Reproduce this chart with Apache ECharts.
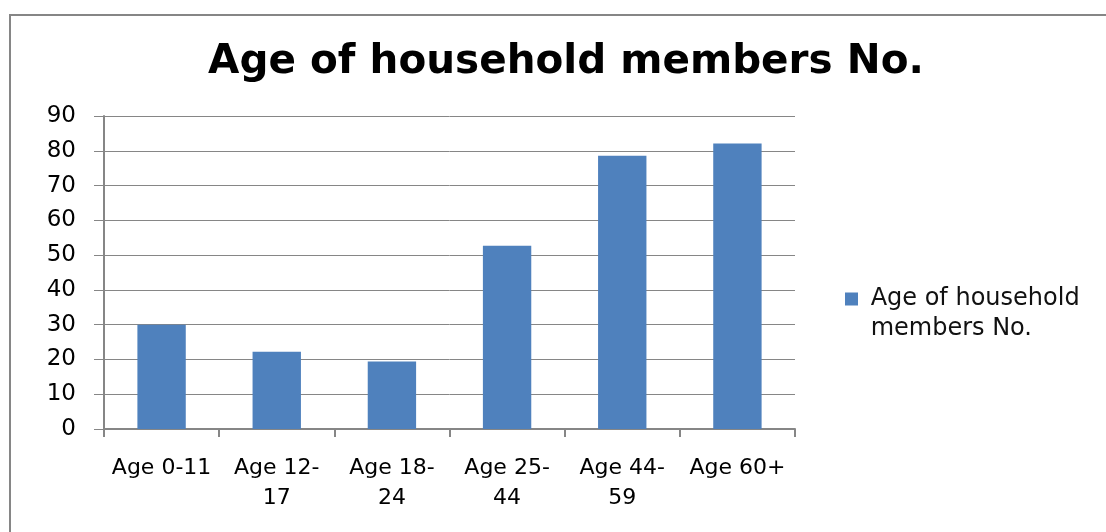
<!DOCTYPE html>
<html>
<head>
<meta charset="utf-8">
<script src="https://cdn.jsdelivr.net/npm/echarts@6/dist/echarts.min.js"></script>
<style>
  html, body { margin: 0; padding: 0; background: #fff; }
  #main { width: 1106px; height: 532px; }
</style>
</head>
<body>
<div id="main"></div>
<script>
// data
var categories = ['Age 0-11', 'Age 12-\n17', 'Age 18-\n24', 'Age 25-\n44', 'Age 44-\n59', 'Age 60+'];
var members = [30, 22.2, 19.4, 52.7, 78.6, 82.1];
var seriesName = 'Age of household members No.';

var chartDom = document.getElementById('main');
var myChart = echarts.init(chartDom);
var option;

var wideFont = '"DejaVu Sans", sans-serif';

option = {
  backgroundColor: '#fff',
  animation: false,
  title: {
    text: seriesName,
    left: 561,
    top: 37,
    textAlign: 'center',
    textStyle: { fontSize: 40.5, fontWeight: 'bold', color: '#000', fontFamily: wideFont }
  },
  // outer chart-area border (only top/left edges are in view)
  graphic: [{
    type: 'rect',
    shape: { x: 10, y: 15, width: 1200, height: 600 },
    style: { fill: 'none', stroke: '#868686', lineWidth: 2 },
    silent: true
  }],
  legend: {
    data: [seriesName],
    left: 840,
    top: 249,
    itemWidth: 13,
    itemHeight: 13,
    icon: 'rect',
    itemGap: 10,
    // blank first line so the marker sits beside the first text line
    formatter: function () { return ' \n Age of household\n members No.'; },
    textStyle: { fontSize: 24, color: '#111', lineHeight: 30, fontFamily: wideFont }
  },
  grid: { left: 104, right: 311, top: 116, bottom: 103 },
  xAxis: {
    type: 'category',
    data: categories,
    axisLine: { lineStyle: { color: '#868686', width: 2 } },
    axisTick: { show: true, length: 8, lineStyle: { color: '#868686', width: 2 } },
    axisLabel: { fontSize: 22, color: '#000', margin: 24, lineHeight: 30, interval: 0, fontFamily: wideFont }
  },
  yAxis: {
    type: 'value',
    min: 0,
    max: 90,
    interval: 10,
    axisLine: { show: true, lineStyle: { color: '#868686', width: 2 } },
    axisTick: { show: true, length: 10, lineStyle: { color: '#868686', width: 1 } },
    axisLabel: { fontSize: 23, color: '#000', margin: 28, fontFamily: wideFont },
    splitLine: { lineStyle: { color: '#868686', width: 1 } }
  },
  series: [{
    name: seriesName,
    type: 'bar',
    data: members,
    barWidth: '42%',
    itemStyle: { color: '#4f81bd' }
  }]
};

option && myChart.setOption(option);
</script>
</body>
</html>
